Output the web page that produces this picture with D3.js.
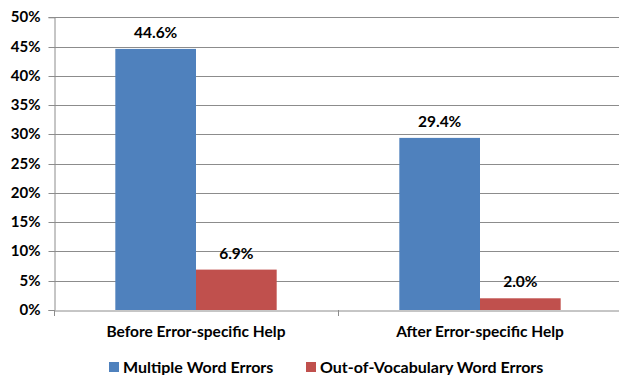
<!DOCTYPE html>
<html>
<head>
<meta charset="utf-8">
<script src="https://cdn.jsdelivr.net/npm/d3@7"></script>
<style>
  html, body { margin: 0; padding: 0; background: #fff; }
  svg text { font-family: Lato, "Open Sans", sans-serif; font-weight: bold; fill: #000; }
</style>
</head>
<body>
<svg id="chart" width="619" height="375"></svg>
<script>
// Error rates before and after error-specific help
const categories = ["Before Error-specific Help", "After Error-specific Help"];
const seriesNames = ["Multiple Word Errors", "Out-of-Vocabulary Word Errors"];
const multipleWordErrors = [44.6, 29.4];
const oovWordErrors = [6.9, 2.0];
const yTicks = [0, 5, 10, 15, 20, 25, 30, 35, 40, 45, 50];
const colors = ["#4F81BD", "#C0504D"];

const series = [multipleWordErrors, oovWordErrors];

const svg = d3.select("#chart");
const plotLeft = 54, plotRight = 622, plotTop = 17.3, plotBottom = 310;
const FONT = "Lato, 'Open Sans', sans-serif";

const x = d3.scaleBand().domain(categories).range([plotLeft, plotRight]);
const xs = d3.scaleBand().domain(d3.range(series.length))
  .range([0, x.bandwidth()]).paddingInner(0).paddingOuter(0.76);
const y = d3.scaleLinear().domain([0, 50]).range([plotBottom, plotTop]);

// Horizontal gridlines
svg.append("g")
  .selectAll("line").data(yTicks.slice(1)).join("line")
  .attr("x1", plotLeft).attr("x2", plotRight)
  .attr("y1", d => Math.round(y(d)) + 0.5).attr("y2", d => Math.round(y(d)) + 0.5)
  .attr("stroke", "#8c8c8c").attr("stroke-width", 1);

// Y axis
const yAxis = svg.append("g")
  .attr("transform", `translate(${plotLeft + 0.5},0)`)
  .call(d3.axisLeft(y).tickValues(yTicks).tickSize(6).tickPadding(8)
    .tickFormat(d => d + "%"));
yAxis.select(".domain").attr("stroke", "#8c8c8c");
yAxis.selectAll(".tick line").attr("stroke", "#8c8c8c");
yAxis.selectAll(".tick").attr("transform", d => `translate(0,${Math.round(y(d)) + 0.5})`);
yAxis.selectAll("text").attr("font-size", 15).attr("font-family", FONT)
  .attr("font-weight", "bold").attr("fill", "#000");

// X axis
const xAxis = svg.append("g")
  .attr("transform", `translate(0,${Math.round(plotBottom) + 0.5})`)
  .call(d3.axisBottom(x).tickSize(0).tickPadding(0));
xAxis.select(".domain").attr("stroke", "#8c8c8c");
xAxis.selectAll("text").attr("font-size", 15.5).attr("font-family", FONT)
  .attr("font-weight", "bold").attr("fill", "#000")
  .attr("dy", null).attr("y", 26.5);
// boundary tick marks between categories
svg.append("g").selectAll("line")
  .data([plotLeft, x(categories[1]), plotRight]).join("line")
  .attr("x1", d => Math.round(d) + 0.5).attr("x2", d => Math.round(d) + 0.5)
  .attr("y1", Math.round(plotBottom)).attr("y2", Math.round(plotBottom) + 6)
  .attr("stroke", "#8c8c8c");

// Bars and value labels
const groups = svg.append("g").selectAll("g").data(categories).join("g")
  .attr("transform", d => `translate(${x(d)},0)`);

series.forEach((vals, si) => {
  groups.append("rect")
    .attr("x", xs(si))
    .attr("width", xs.bandwidth())
    .attr("y", (d, i) => y(vals[i]))
    .attr("height", (d, i) => y(0) - y(vals[i]))
    .attr("fill", colors[si]);
  groups.append("text")
    .attr("x", xs(si) + xs.bandwidth() / 2)
    .attr("y", (d, i) => y(vals[i]) - 11)
    .attr("text-anchor", "middle")
    .attr("font-size", 15.5)
    .text((d, i) => vals[i].toFixed(1) + "%");
});

// Legend
const legendX = [109, 306];
const legend = svg.append("g").selectAll("g").data(seriesNames).join("g")
  .attr("transform", (d, i) => `translate(${legendX[i]},362)`);
legend.append("rect").attr("width", 10).attr("height", 10)
  .attr("fill", (d, i) => colors[i]);
legend.append("text").attr("x", 14).attr("y", 10.5)
  .attr("font-size", 16).text(d => d);
</script>
</body>
</html>
